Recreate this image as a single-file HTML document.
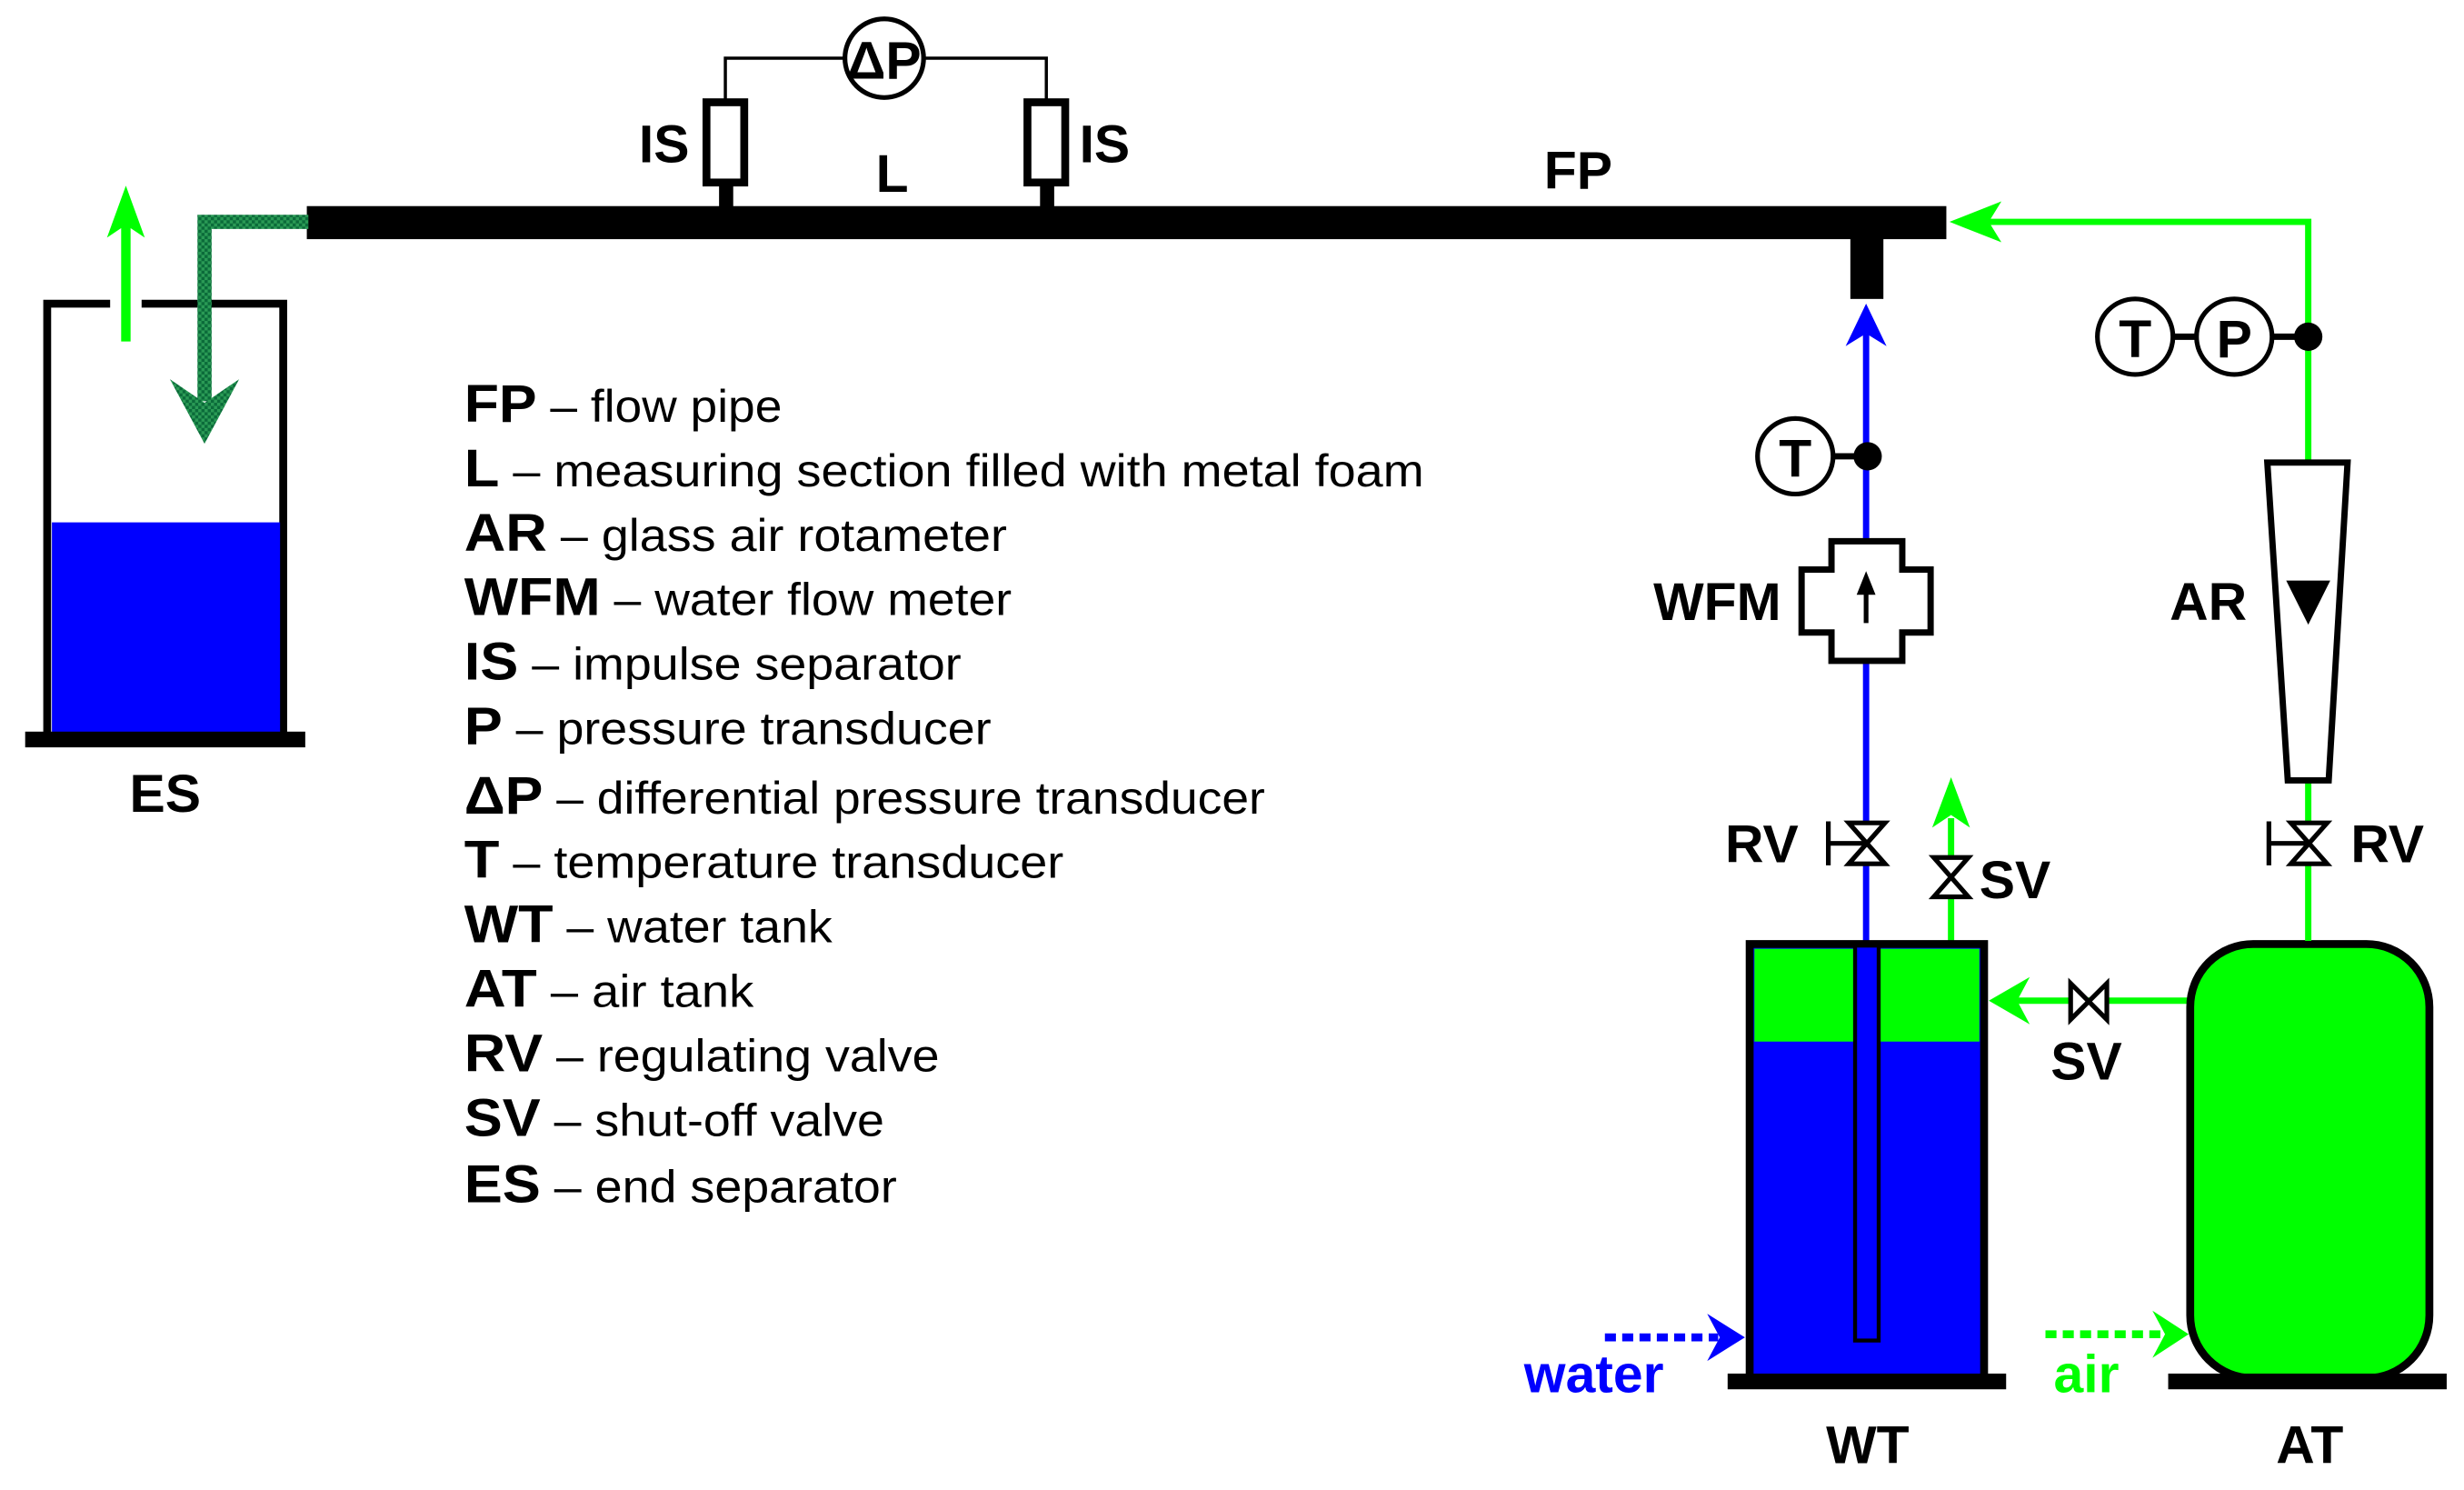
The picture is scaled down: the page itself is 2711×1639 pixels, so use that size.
<!DOCTYPE html>
<html><head><meta charset="utf-8"><style>
html,body{margin:0;padding:0;background:#fff;}
svg{display:block;}
text{font-family:"Liberation Sans",Arial,sans-serif;}
</style></head><body>
<svg width="2711" height="1639" viewBox="0 0 1566 947" preserveAspectRatio="none" xmlns="http://www.w3.org/2000/svg">
<defs>
<pattern id="hatch" width="4" height="4" patternUnits="userSpaceOnUse">
<rect width="4" height="4" fill="#2a9a55"/><rect width="2" height="2" fill="#0b6b3a"/><rect x="2" y="2" width="2" height="2" fill="#0b6b3a"/>
</pattern>
</defs>
<rect width="1566" height="947" fill="#fff"/>

<!-- dP & IS -->
<polyline points="461,63 461,37 665,37 665,63" fill="none" stroke="#000" stroke-width="2"/>
<circle cx="562" cy="37" r="25" fill="#fff" stroke="#000" stroke-width="3"/>
<text x="562" y="50" font-size="34" font-weight="bold" text-anchor="middle">ΔP</text>
<rect x="449" y="65" width="24" height="51" fill="#fff" stroke="#000" stroke-width="5"/>
<rect x="653" y="65" width="24" height="51" fill="#fff" stroke="#000" stroke-width="5"/>
<rect x="457" y="116" width="9" height="16" fill="#000"/>
<rect x="661" y="116" width="9" height="16" fill="#000"/>
<text x="406" y="103" font-size="34" font-weight="bold">IS</text>
<text x="686" y="103" font-size="34" font-weight="bold">IS</text>
<text x="567" y="122" font-size="34" font-weight="bold" text-anchor="middle">L</text>
<text x="1003" y="120" font-size="34" font-weight="bold" text-anchor="middle">FP</text>

<!-- flow pipe -->
<rect x="195" y="131" width="1042" height="21" fill="#000"/>
<rect x="1176" y="150" width="21" height="40" fill="#000"/>

<!-- ES -->
<path d="M30,468 V193 H70 M90,193 H180 V468" fill="none" stroke="#000" stroke-width="5"/>
<rect x="33" y="332" width="145" height="134" fill="#0000ff"/>
<rect x="16" y="465" width="178" height="10" fill="#000"/>
<line x1="80" y1="217" x2="80" y2="140" stroke="#00ff00" stroke-width="6"/>
<polygon points="80,118 68,151 80,143 92,151" fill="#00ff00"/>
<path d="M196,141 H130 V255" fill="none" stroke="url(#hatch)" stroke-width="9"/>
<polygon points="130,282 108,241 130,256 152,241" fill="url(#hatch)"/>
<text x="105" y="516" font-size="34" font-weight="bold" text-anchor="middle">ES</text>

<!-- legend -->
<g font-size="29">
<text x="295" y="268" textLength="202" lengthAdjust="spacingAndGlyphs"><tspan font-weight="bold" font-size="34">FP</tspan> – flow pipe</text>
<text x="295" y="309" textLength="610" lengthAdjust="spacingAndGlyphs"><tspan font-weight="bold" font-size="34">L</tspan> – measuring section filled with metal foam</text>
<text x="295" y="350" textLength="345" lengthAdjust="spacingAndGlyphs"><tspan font-weight="bold" font-size="34">AR</tspan> – glass air rotameter</text>
<text x="295" y="391" textLength="348" lengthAdjust="spacingAndGlyphs"><tspan font-weight="bold" font-size="34">WFM</tspan> – water flow meter</text>
<text x="295" y="432" textLength="316" lengthAdjust="spacingAndGlyphs"><tspan font-weight="bold" font-size="34">IS</tspan> – impulse separator</text>
<text x="295" y="473" textLength="335" lengthAdjust="spacingAndGlyphs"><tspan font-weight="bold" font-size="34">P</tspan> – pressure transducer</text>
<text x="295" y="517" textLength="509" lengthAdjust="spacingAndGlyphs"><tspan font-weight="bold" font-size="34">ΔP</tspan> – differential pressure transducer</text>
<text x="295" y="558" textLength="381" lengthAdjust="spacingAndGlyphs"><tspan font-weight="bold" font-size="34">T</tspan> – temperature transducer</text>
<text x="295" y="599" textLength="234" lengthAdjust="spacingAndGlyphs"><tspan font-weight="bold" font-size="34">WT</tspan> – water tank</text>
<text x="295" y="640" textLength="184" lengthAdjust="spacingAndGlyphs"><tspan font-weight="bold" font-size="34">AT</tspan> – air tank</text>
<text x="295" y="681" textLength="302" lengthAdjust="spacingAndGlyphs"><tspan font-weight="bold" font-size="34">RV</tspan> – regulating valve</text>
<text x="295" y="722" textLength="267" lengthAdjust="spacingAndGlyphs"><tspan font-weight="bold" font-size="34">SV</tspan> – shut-off valve</text>
<text x="295" y="764" textLength="275" lengthAdjust="spacingAndGlyphs"><tspan font-weight="bold" font-size="34">ES</tspan> – end separator</text>
</g>

<!-- water line -->
<line x1="1186" y1="212" x2="1186" y2="600" stroke="#0000ff" stroke-width="4"/>
<polygon points="1186,193 1173,220 1186,212 1199,220" fill="#0000ff"/>
<line x1="1160" y1="290" x2="1186" y2="290" stroke="#000" stroke-width="4"/>
<circle cx="1141" cy="290" r="24" fill="#fff" stroke="#000" stroke-width="3"/>
<text x="1141" y="303" font-size="34" font-weight="bold" text-anchor="middle">T</text>
<circle cx="1187" cy="290" r="9" fill="#000"/>
<!-- WFM -->
<polygon points="1164,344 1209,344 1209,362 1227,362 1227,402 1209,402 1209,420 1164,420 1164,402 1145,402 1145,362 1164,362" fill="#fff" stroke="#000" stroke-width="4"/>
<line x1="1186" y1="396" x2="1186" y2="368" stroke="#000" stroke-width="3"/>
<polygon points="1186,363 1180,378 1192,378" fill="#000"/>
<text x="1132" y="394" font-size="34" font-weight="bold" text-anchor="end">WFM</text>
<!-- RV blue -->
<g stroke="#000" stroke-width="3" fill="#fff">
<polygon points="1175,523 1198,523 1175,549 1198,549"/>
<line x1="1162" y1="536" x2="1186" y2="536"/>
<line x1="1162" y1="522" x2="1162" y2="550"/>
</g>
<text x="1143" y="548" font-size="34" font-weight="bold" text-anchor="end">RV</text>
<!-- SV vent -->
<line x1="1240" y1="520" x2="1240" y2="600" stroke="#00ff00" stroke-width="4"/>
<polygon points="1240,494 1228,526 1240,518 1252,526" fill="#00ff00"/>
<polygon points="1229,545 1251,545 1229,570 1251,570" fill="#fff" stroke="#000" stroke-width="3"/>
<text x="1258" y="571" font-size="34" font-weight="bold">SV</text>

<!-- WT -->
<rect x="1112" y="600" width="149" height="276" fill="#0000ff" stroke="#000" stroke-width="5"/>
<rect x="1115" y="603" width="143" height="59" fill="#00ff00"/>
<rect x="1179" y="601" width="15" height="251" fill="#0000ff" stroke="#000" stroke-width="2.5"/>
<rect x="1098" y="873" width="177" height="10" fill="#000"/>
<line x1="1020" y1="850" x2="1092" y2="850" stroke="#0000ff" stroke-width="5" stroke-dasharray="7,4"/>
<polygon points="1109,850 1085,835 1093,850 1085,865" fill="#0000ff"/>
<text x="1013" y="885" font-size="34" font-weight="bold" fill="#0000ff" text-anchor="middle">water</text>
<text x="1187" y="930" font-size="34" font-weight="bold" text-anchor="middle">WT</text>

<!-- air SV -->
<line x1="1280" y1="636" x2="1392" y2="636" stroke="#00ff00" stroke-width="4"/>
<polygon points="1264,636 1290,621 1282,636 1290,651" fill="#00ff00"/>
<polygon points="1316,625 1316,648 1339,625 1339,648" fill="#fff" stroke="#000" stroke-width="3"/>
<text x="1326" y="686" font-size="34" font-weight="bold" text-anchor="middle">SV</text>

<!-- AT -->
<rect x="1392" y="600" width="152" height="276" rx="40" ry="40" fill="#00ff00" stroke="#000" stroke-width="5"/>
<rect x="1378" y="873" width="177" height="10" fill="#000"/>
<line x1="1300" y1="848" x2="1374" y2="848" stroke="#00ff00" stroke-width="5" stroke-dasharray="7,4"/>
<polygon points="1391,848 1368,833 1376,848 1368,863" fill="#00ff00"/>
<text x="1326" y="885" font-size="34" font-weight="bold" fill="#00ff00" text-anchor="middle">air</text>
<text x="1468" y="930" font-size="34" font-weight="bold" text-anchor="middle">AT</text>

<!-- air line -->
<polyline points="1467,598 1467,141 1262,141" fill="none" stroke="#00ff00" stroke-width="4"/>
<polygon points="1239,141 1272,128 1264,141 1272,154" fill="#00ff00"/>
<line x1="1381" y1="214" x2="1467" y2="214" stroke="#000" stroke-width="4"/>
<circle cx="1357" cy="214" r="24" fill="#fff" stroke="#000" stroke-width="3"/>
<text x="1357" y="227" font-size="34" font-weight="bold" text-anchor="middle">T</text>
<circle cx="1420" cy="214" r="24" fill="#fff" stroke="#000" stroke-width="3"/>
<text x="1420" y="227" font-size="34" font-weight="bold" text-anchor="middle">P</text>
<circle cx="1467" cy="214" r="9" fill="#000"/>
<!-- AR -->
<polygon points="1441,294 1492,294 1480,496 1454,496" fill="#fff" stroke="#000" stroke-width="4"/>
<polygon points="1453,369 1481,369 1467,397" fill="#000"/>
<text x="1428" y="394" font-size="34" font-weight="bold" text-anchor="end">AR</text>
<!-- RV green -->
<g stroke="#000" stroke-width="3" fill="#fff">
<polygon points="1456,523 1479,523 1456,549 1479,549"/>
<line x1="1442" y1="536" x2="1467" y2="536"/>
<line x1="1442" y1="522" x2="1442" y2="550"/>
</g>
<text x="1494" y="548" font-size="34" font-weight="bold">RV</text>
</svg>
</body></html>
